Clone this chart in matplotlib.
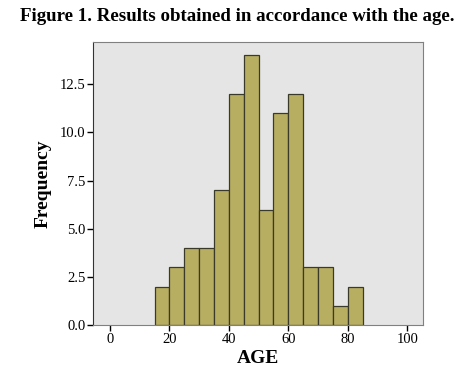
import numpy as np
import matplotlib
matplotlib.use('Agg')
import matplotlib.pyplot as plt
from matplotlib.ticker import FormatStrFormatter

plt.rcParams['font.family'] = ['Liberation Serif', 'DejaVu Serif']

# bins of width 5 (left edges) and frequency counts
bin_left = [15, 20, 25, 30, 35, 40, 45, 50, 55, 60, 65, 70, 75, 80]
counts = [2, 3, 4, 4, 7, 12, 14, 6, 11, 12, 3, 3, 1, 2]
bin_width = 5
x_ticks = [0, 20, 40, 60, 80, 100]
y_ticks = [0.0, 2.5, 5.0, 7.5, 10.0, 12.5]

fig = plt.figure(figsize=(4.75, 3.88), dpi=100)
ax = fig.add_axes([0.196, 0.162, 0.695, 0.730])
ax.set_facecolor('#e5e5e5')

ax.bar(bin_left, counts, width=bin_width, align='edge',
       color='#b8ae62', edgecolor='#3a3a2a', linewidth=0.9)

ax.set_xlim(-5.7, 105.4)
ax.set_ylim(0, 14.7)
ax.set_xticks(x_ticks)
ax.set_yticks(y_ticks)
ax.yaxis.set_major_formatter(FormatStrFormatter('%.1f'))
ax.tick_params(direction='out', length=4, width=1, labelsize=10.5, pad=1.5)

for s in ax.spines.values():
    s.set_color('#808080')
ax.spines['left'].set_color('#333333')

ax.set_xlabel('AGE', fontsize=14, fontweight='bold', labelpad=3)
ax.set_ylabel('Frequency', fontsize=14, fontweight='bold', labelpad=6)
fig.text(0.5, 0.958, 'Figure 1. Results obtained in accordance with the age.',
         ha='center', va='center', fontsize=13.6, fontweight='bold')

fig.savefig('out.png', dpi=100)
